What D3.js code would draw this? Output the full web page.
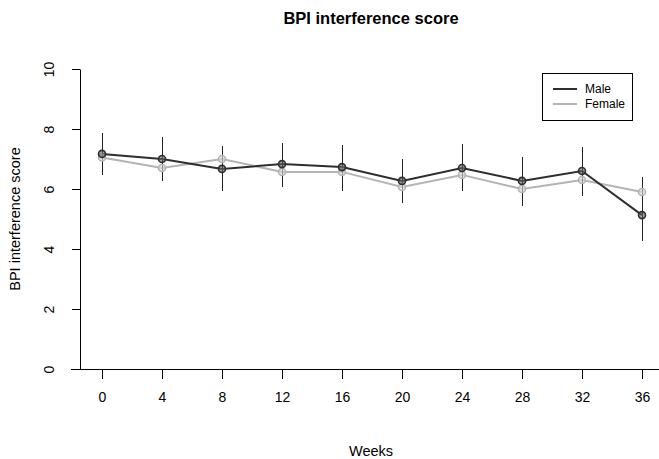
<!DOCTYPE html>
<html>
<head>
<meta charset="utf-8">
<script src="https://cdn.jsdelivr.net/npm/d3@7"></script>
<style>
  body { margin: 0; background: #fff; }
  text { font-family: "Liberation Sans", Arial, sans-serif; }
</style>
</head>
<body>
<svg id="chart" width="659" height="459"></svg>
<script>
const weeks = [0, 4, 8, 12, 16, 20, 24, 28, 32, 36];
const maleValues = [7.17, 7.0, 6.67, 6.83, 6.73, 6.27, 6.7, 6.27, 6.6, 5.13];
const femaleValues = [7.05, 6.7, 7.0, 6.57, 6.57, 6.07, 6.47, 6.0, 6.3, 5.9];
const errUpper = [7.87, 7.73, 7.43, 7.53, 7.47, 7.0, 7.5, 7.07, 7.4, 6.4];
const errLower = [6.47, 6.27, 5.93, 6.07, 5.93, 5.53, 5.93, 5.43, 5.77, 4.27];
const yTicks = [0, 2, 4, 6, 8, 10];
const seriesNames = ["Male", "Female"];
const seriesColors = ["#2e2e2e", "#b4b4b4"];

const svg = d3.select("#chart");
const x = d3.scaleLinear().domain([0, 36]).range([102, 642]);
const y = d3.scaleLinear().domain([0, 10]).range([369, 69]);

// Title
svg.append("text").attr("x", 371).attr("y", 24).attr("text-anchor", "middle")
  .attr("font-size", 16.5).attr("font-weight", "bold").attr("fill", "#000")
  .text("BPI interference score");

// X axis
const xAxis = svg.append("g").attr("transform", `translate(0,${y(0)})`)
  .call(d3.axisBottom(x).tickValues(weeks).tickSize(10).tickSizeOuter(0).tickPadding(13));
xAxis.select(".domain").attr("d", `M${x(-2.07)},0.5H659`).attr("stroke", "#000");
xAxis.selectAll(".tick line").attr("stroke", "#000");
xAxis.selectAll(".tick text").attr("font-size", 14).attr("fill", "#000")
  .attr("font-family", "Liberation Sans, Arial, sans-serif");

// Y axis
const yAxis = svg.append("g").attr("transform", `translate(80,0)`)
  .call(d3.axisLeft(y).tickValues(yTicks).tickSize(8).tickSizeOuter(0));
yAxis.select(".domain").attr("stroke", "#000");
yAxis.selectAll(".tick line").attr("stroke", "#000");
yAxis.selectAll(".tick text").attr("font-size", 14).attr("fill", "#000")
  .attr("font-family", "Liberation Sans, Arial, sans-serif")
  .attr("text-anchor", "middle").attr("dy", null).attr("x", null)
  .attr("transform", "translate(-31,0) rotate(-90)").attr("dy", "0.35em");

// Axis titles
svg.append("text").attr("x", 371).attr("y", 456).attr("text-anchor", "middle")
  .attr("font-size", 14.5).attr("fill", "#000").text("Weeks");
svg.append("text").attr("transform", `translate(20,${(y(0) + y(10)) / 2}) rotate(-90)`)
  .attr("text-anchor", "middle").attr("font-size", 14.5).attr("fill", "#000")
  .text("BPI interference score");

// Lines
const line = d3.line().x((d, i) => x(weeks[i])).y(d => y(d));
const series = [maleValues, femaleValues];
[1, 0].forEach(k => {
  svg.append("path").datum(series[k]).attr("d", line)
    .attr("fill", "none").attr("stroke", seriesColors[k]).attr("stroke-width", 2);
});

// Error bars
svg.append("g").attr("transform", "translate(0.5,0)").selectAll("line").data(weeks).join("line")
  .attr("x1", d => x(d)).attr("x2", d => x(d))
  .attr("y1", (d, i) => y(errUpper[i])).attr("y2", (d, i) => y(errLower[i]))
  .attr("stroke", "#222").attr("stroke-width", 1).attr("shape-rendering", "crispEdges");

// Points
[1, 0].forEach(k => {
  svg.append("g").selectAll("circle").data(series[k]).join("circle")
    .attr("cx", (d, i) => x(weeks[i])).attr("cy", d => y(d)).attr("r", 3.5)
    .attr("fill", k === 0 ? "#666" : "#ddd").attr("fill-opacity", 0.6)
    .attr("stroke", seriesColors[k]).attr("stroke-width", 1.6);
});

// Legend
const lg = svg.append("g");
lg.append("rect").attr("x", 542.5).attr("y", 73.5).attr("width", 90).attr("height", 47)
  .attr("fill", "#fff").attr("stroke", "#000").attr("stroke-width", 1);
seriesNames.forEach((name, i) => {
  const ly = 89 + i * 15;
  lg.append("line").attr("x1", 553).attr("x2", 577).attr("y1", ly).attr("y2", ly)
    .attr("stroke", seriesColors[i]).attr("stroke-width", 2);
  lg.append("text").attr("x", 585).attr("y", ly).attr("dy", "0.35em")
    .attr("font-size", 12).attr("fill", "#000").text(name);
});
</script>
</body>
</html>
